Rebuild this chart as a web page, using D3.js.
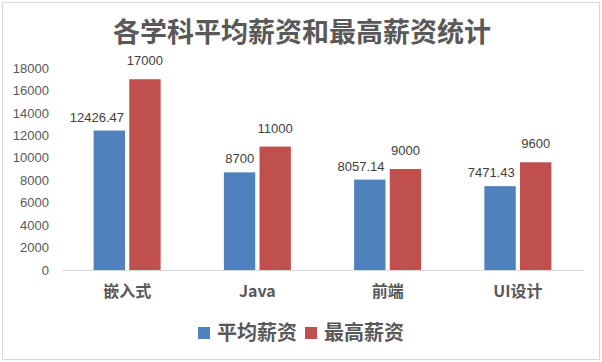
<!DOCTYPE html>
<html>
<head>
<meta charset="utf-8">
<script src="https://cdn.jsdelivr.net/npm/d3@7"></script>
<style>
  body { margin: 0; background: #fff; }
  svg text { font-family: "Liberation Sans", "Noto Sans CJK SC", sans-serif; }
  .cjk { font-family: "Noto Sans CJK SC", "Noto Sans", sans-serif; }
</style>
</head>
<body>
<div id="chart"></div>
<script>
var categories = ["嵌入式", "Java", "前端", "UI设计"];
var seriesNames = ["平均薪资", "最高薪资"];
var avgSalary = [12426.47, 8700, 8057.14, 7471.43];
var maxSalary = [17000, 11000, 9000, 9600];
var yTicks = [0, 2000, 4000, 6000, 8000, 10000, 12000, 14000, 16000, 18000];
var colors = ["#4F81BD", "#C0504D"];

var width = 602, height = 362;
var margin = { top: 68, right: 19, bottom: 92, left: 62 };

var svg = d3.select("#chart").append("svg")
    .attr("width", width)
    .attr("height", height);

// outer frame
svg.append("rect")
    .attr("x", 2.5).attr("y", 2.5)
    .attr("width", 597).attr("height", 357)
    .attr("fill", "#fff")
    .attr("stroke", "#d9d9d9");

svg.append("text")
    .attr("class", "cjk")
    .attr("x", 302).attr("y", 42)
    .attr("text-anchor", "middle")
    .attr("font-size", 27)
    .attr("font-weight", "bold")
    .attr("fill", "#595959")
    .text("各学科平均薪资和最高薪资统计");

var x = d3.scaleBand()
    .domain(categories)
    .range([margin.left, width - margin.right]);

var x1 = d3.scaleBand()
    .domain([0, 1])
    .range([0, 67])
    .paddingInner(0.12);

var y = d3.scaleLinear()
    .domain([0, 18000])
    .range([height - margin.bottom, margin.top]);

var data = categories.map(function (c, i) {
    return { cat: c, vals: [avgSalary[i], maxSalary[i]] };
});

// y axis labels
svg.append("g")
    .attr("transform", "translate(" + (margin.left - 13) + ",0)")
    .call(d3.axisLeft(y).tickValues(yTicks).tickSize(0).tickPadding(0).tickFormat(d3.format("d")))
    .call(function (g) { g.select(".domain").remove(); })
    .selectAll("text")
    .attr("font-size", 13)
    .attr("fill", "#595959")
    .attr("font-family", "Liberation Sans");

// bars
var groups = svg.selectAll("g.grp")
    .data(data)
    .enter().append("g")
    .attr("class", "grp")
    .attr("transform", function (d) {
        return "translate(" + (x(d.cat) + x.bandwidth() / 2 - 33.5) + ",0)";
    });

groups.selectAll("rect")
    .data(function (d) { return d.vals; })
    .enter().append("rect")
    .attr("x", function (d, i) { return x1(i); })
    .attr("y", function (d) { return y(d); })
    .attr("width", x1.bandwidth())
    .attr("height", function (d) { return y(0) - y(d); })
    .attr("fill", function (d, i) { return colors[i]; });

// value labels
groups.selectAll("text")
    .data(function (d) { return d.vals; })
    .enter().append("text")
    .attr("x", function (d, i) {
        return i === 0 ? x1(i) + x1.bandwidth() - 1 : x1(i) + x1.bandwidth() / 2;
    })
    .attr("y", function (d, i) { return y(d) - (i === 0 ? 9 : 14); })
    .attr("text-anchor", function (d, i) { return i === 0 ? "end" : "middle"; })
    .attr("font-size", 13)
    .attr("fill", "#404040")
    .text(function (d) { return d; });

// baseline
svg.append("line")
    .attr("x1", margin.left).attr("x2", width - margin.right)
    .attr("y1", y(0) + 0.5).attr("y2", y(0) + 0.5)
    .attr("stroke", "#d9d9d9");

// category labels
var xAxis = svg.append("g")
    .attr("transform", "translate(0," + y(0) + ")")
    .call(d3.axisBottom(x).tickSize(0).tickPadding(0));
xAxis.select(".domain").remove();
xAxis.selectAll("text")
    .attr("class", "cjk")
    .attr("dy", 0)
    .attr("y", 27)
    .attr("font-size", 16)
    .attr("font-weight", "bold")
    .attr("fill", "#595959");

// legend
var legendX = [198, 305];
var legend = svg.selectAll("g.lg")
    .data(seriesNames)
    .enter().append("g")
    .attr("class", "lg")
    .attr("transform", function (d, i) { return "translate(" + legendX[i] + ",327)"; });

legend.append("rect")
    .attr("width", 12).attr("height", 12)
    .attr("fill", function (d, i) { return colors[i]; });

legend.append("text")
    .attr("class", "cjk")
    .attr("x", 19).attr("y", 13)
    .attr("font-size", 20)
    .attr("font-weight", "bold")
    .attr("fill", "#595959")
    .text(function (d) { return d; });
</script>
</body>
</html>
